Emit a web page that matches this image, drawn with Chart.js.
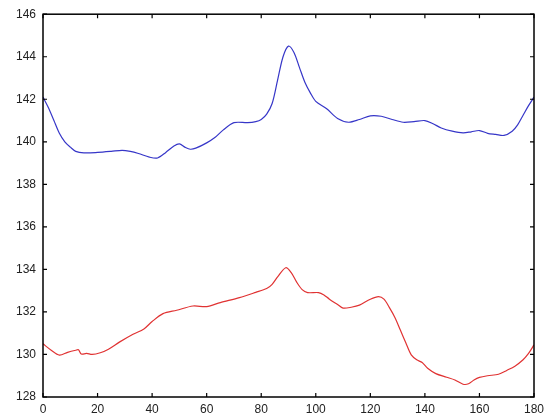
<!DOCTYPE html>
<html>
<head>
<meta charset="utf-8">
<script src="https://cdn.jsdelivr.net/npm/chart.js@4/dist/chart.umd.min.js"></script>
<style>
	html, body { margin: 0; padding: 0; background: #fff; }
	#wrap { width: 555px; height: 420px; }
</style>
</head>
<body>
<div id="wrap"><canvas id="chart_lineas"></canvas></div>
<script>
// datos
let xAzul = [0, 2, 4, 6, 8, 10, 12, 15, 20, 25, 29, 32, 35, 39, 42, 45, 48, 50, 52, 54, 56, 60, 63, 66, 70, 75, 78, 80, 82, 84, 86, 88, 90, 92, 94, 96, 98, 100, 104, 108, 112, 116, 120, 124, 128, 132, 136, 140, 143, 146, 150, 154, 157, 160, 163, 166, 169, 172, 174, 176, 178, 180];
let yAzul = [142.1, 141.6, 141.0, 140.4, 140.0, 139.75, 139.55, 139.48, 139.5, 139.55, 139.6, 139.55, 139.45, 139.28, 139.24, 139.5, 139.8, 139.9, 139.75, 139.65, 139.7, 139.95, 140.2, 140.55, 140.9, 140.9, 140.95, 141.05, 141.3, 141.8, 142.9, 144.0, 144.5, 144.2, 143.5, 142.8, 142.3, 141.9, 141.55, 141.1, 140.92, 141.05, 141.22, 141.2, 141.05, 140.92, 140.95, 141.0, 140.85, 140.65, 140.5, 140.42, 140.47, 140.53, 140.4, 140.35, 140.3, 140.5, 140.8, 141.25, 141.7, 142.1];

let xRojo = [0, 3, 6, 9, 12, 13, 14, 16, 18, 21, 24, 28, 33, 37, 40, 44, 49, 55, 60, 65, 72, 78, 82, 84, 86, 89, 91, 93, 95, 97, 101, 103, 105, 108, 110, 113, 116, 120, 123, 125, 127, 129, 131, 133, 135, 137, 139, 141, 144, 148, 151, 154, 156, 158, 160, 163, 167, 170, 173, 176, 178, 180];
let yRojo = [130.5, 130.2, 129.97, 130.1, 130.2, 130.22, 130.02, 130.05, 130.0, 130.08, 130.25, 130.58, 130.95, 131.2, 131.55, 131.92, 132.08, 132.28, 132.25, 132.44, 132.67, 132.92, 133.1, 133.3, 133.65, 134.08, 133.85, 133.4, 133.05, 132.91, 132.91, 132.8, 132.6, 132.35, 132.18, 132.22, 132.32, 132.6, 132.72, 132.6, 132.2, 131.74, 131.15, 130.55, 129.98, 129.75, 129.62, 129.35, 129.1, 128.93, 128.8, 128.6, 128.62, 128.8, 128.92, 129.0, 129.07, 129.25, 129.45, 129.75, 130.05, 130.45];

let ticksX = [0, 20, 40, 60, 80, 100, 120, 140, 160, 180];
let ticksY = [128, 130, 132, 134, 136, 138, 140, 142, 144, 146];

let puntos = (xs, ys) => xs.map((x, i) => ({ x: x, y: ys[i] }));

// marco y ticks hacia adentro (estilo gnuplot)
let marco = {
	id: 'marco',
	afterDraw(chart) {
		let ctx = chart.ctx;
		let a = chart.chartArea;
		let sx = chart.scales.x;
		let sy = chart.scales.y;
		ctx.save();
		ctx.strokeStyle = '#000';
		ctx.lineWidth = 1.5;
		ctx.strokeRect(a.left, a.top, a.right - a.left, a.bottom - a.top);
		ctx.lineWidth = 1.2;
		ctx.beginPath();
		ticksX.forEach(v => {
			let p = sx.getPixelForValue(v);
			ctx.moveTo(p, a.bottom); ctx.lineTo(p, a.bottom - 4);
			ctx.moveTo(p, a.top); ctx.lineTo(p, a.top + 4);
		});
		ticksY.forEach(v => {
			let p = sy.getPixelForValue(v);
			ctx.moveTo(a.left, p); ctx.lineTo(a.left + 4, p);
			ctx.moveTo(a.right, p); ctx.lineTo(a.right - 4, p);
		});
		ctx.stroke();
		ctx.restore();
	}
};

let ctx = document.getElementById('chart_lineas');
new Chart(ctx, {
	type: 'line',
	data: {
		datasets: [
			{
				data: puntos(xAzul, yAzul),
				borderColor: '#3636c8',
				borderWidth: 1.2,
				pointRadius: 0,
				tension: 0.3,
				fill: false
			},
			{
				data: puntos(xRojo, yRojo),
				borderColor: '#e03232',
				borderWidth: 1.2,
				pointRadius: 0,
				tension: 0.3,
				fill: false
			}
		]
	},
	options: {
		responsive: true,
		maintainAspectRatio: false,
		animation: false,
		layout: { padding: { left: 0, right: 21, top: 11, bottom: 0 } },
		plugins: { legend: { display: false }, tooltip: { enabled: false } },
		scales: {
			x: {
				type: 'linear',
				min: 0,
				max: 180,
				afterBuildTicks: s => { s.ticks = ticksX.map(v => ({ value: v })); },
				afterFit: s => { s.height = 23; },
				grid: { display: false, drawTicks: false },
				border: { display: false },
				ticks: { padding: 5, color: '#222', font: { family: 'Liberation Sans', size: 12 }, maxRotation: 0 }
			},
			y: {
				type: 'linear',
				min: 128,
				max: 146,
				afterBuildTicks: s => { s.ticks = ticksY.map(v => ({ value: v })); },
				afterFit: s => { s.width = 43; },
				grid: { display: false, drawTicks: false },
				border: { display: false },
				ticks: { padding: 7, color: '#222', font: { family: 'Liberation Sans', size: 12 } }
			}
		}
	},
	plugins: [marco]
});
</script>
</body>
</html>
